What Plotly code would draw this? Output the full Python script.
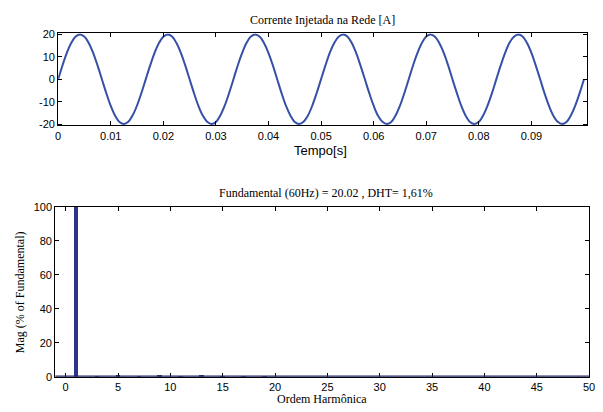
import numpy as np
import plotly.graph_objects as go

# --- Injected grid current, sampled every 1/1200 s (20 samples per 60 Hz cycle) ---
sample_period = 1.0 / 1200.0
current_a = [
    0.0, 6.3, 11.9, 16.3, 19.1, 20.0, 19.0, 16.1, 11.7, 6.1,
    -0.1, -6.3, -11.9, -16.3, -19.1, -20.0, -19.0, -16.1, -11.7, -6.1,
    0.1, 6.2, 11.8, 16.2, 19.0, 20.0, 19.1, 16.2, 11.8, 6.2,
    0.0, -6.2, -11.8, -16.2, -19.0, -20.0, -19.1, -16.2, -11.8, -6.2,
    0.0, 6.3, 11.8, 16.3, 19.1, 20.0, 19.0, 16.1, 11.7, 6.2,
    -0.1, -6.3, -11.9, -16.2, -19.1, -20.0, -19.0, -16.2, -11.7, -6.1,
    0.1, 6.2, 11.9, 16.2, 19.0, 20.0, 19.1, 16.2, 11.8, 6.1,
    0.0, -6.2, -11.8, -16.3, -19.0, -20.0, -19.1, -16.2, -11.8, -6.2,
    0.0, 6.3, 11.8, 16.2, 19.1, 20.0, 19.0, 16.1, 11.8, 6.2,
    -0.1, -6.2, -11.9, -16.3, -19.1, -20.0, -19.0, -16.1, -11.7, -6.2,
    0.1, 6.2, 11.8, 16.3, 19.0, 20.0, 19.1, 16.2, 11.8, 6.1,
    0.0, -6.3, -11.8, -16.2, -19.0, -20.0, -19.1, -16.2, -11.8, -6.2,
    0.0,
]
time_s = np.arange(len(current_a)) * sample_period

time_ticks = [0, 0.01, 0.02, 0.03, 0.04, 0.05, 0.06, 0.07, 0.08, 0.09]
time_tick_labels = ["0", "0.01", "0.02", "0.03", "0.04", "0.05", "0.06", "0.07", "0.08", "0.09"]
current_ticks = [-20, -10, 0, 10, 20]
current_tick_labels = ["-20", "-10", "0", "10", "20"]

# --- Harmonic spectrum (% of fundamental) ---
harmonic_order = list(range(0, 51))
harmonic_mag = [0.0] * 51
harmonic_mag[1] = 100.0
harmonic_mag[3] = 0.3
harmonic_mag[5] = 0.7
harmonic_mag[7] = 0.4
harmonic_mag[9] = 0.9
harmonic_mag[11] = 0.4
harmonic_mag[13] = 0.8
harmonic_mag[15] = 0.2
harmonic_mag[17] = 0.2
harmonic_mag[19] = 0.1

order_ticks = [0, 5, 10, 15, 20, 25, 30, 35, 40, 45, 50]
mag_ticks = [0, 20, 40, 60, 80, 100]

top_title = "Corrente Injetada na Rede [A]"
bottom_title = "Fundamental (60Hz) = 20.02 , DHT= 1,61%"
time_label = "Tempo[s]"
order_label = "Ordem Harmônica"
mag_label = "Mag (% of Fundamental)"

W, H = 603, 412
SANS = "Liberation Sans, Arial, sans-serif"
SERIF = "Liberation Serif, Times New Roman, serif"
LINE_BLUE = "#3550a6"
BAR_NAVY = "#2c3588"

order_range = [-1, 50]

fig = go.Figure()
fig.add_trace(go.Scatter(
    x=time_s, y=current_a, mode="lines", line_shape="spline",
    line=dict(color=LINE_BLUE, width=2), xaxis="x", yaxis="y",
    showlegend=False,
))
fig.add_trace(go.Bar(
    x=harmonic_order, y=harmonic_mag, width=0.42,
    marker=dict(color=BAR_NAVY, line=dict(width=0)),
    xaxis="x2", yaxis="y2", showlegend=False,
))


def px_x(p):
    return p / W


def px_y(p):
    return 1 - p / H


axis_common = dict(
    showline=True, linecolor="black", linewidth=1, mirror="ticks",
    ticks="inside", ticklen=4, tickcolor="black", tickwidth=1,
    showgrid=False, zeroline=False,
    tickfont=dict(family=SANS, size=11, color="black"),
)

fig.update_layout(
    width=W, height=H,
    margin=dict(l=0, r=0, t=0, b=0),
    paper_bgcolor="white", plot_bgcolor="white",
    bargap=0,
    xaxis=dict(
        domain=[px_x(56), px_x(593)], range=[0, 0.1006],
        tickvals=time_ticks, ticktext=time_tick_labels, anchor="y",
        ticklabelstandoff=0,
        **axis_common,
    ),
    yaxis=dict(
        domain=[px_y(123), px_y(28)], range=[-20.6, 20.6],
        tickvals=current_ticks, ticktext=current_tick_labels, anchor="x",
        **axis_common,
    ),
    xaxis2=dict(
        domain=[px_x(53), px_x(595)], range=order_range,
        tickvals=order_ticks, anchor="y2",
        **axis_common,
    ),
    yaxis2=dict(
        domain=[px_y(382), px_y(207)], range=[0, 100],
        tickvals=mag_ticks, anchor="x2",
        **axis_common,
    ),
    shapes=[
        # bar-chart baseline along zero
        dict(type="line", xref="x2", yref="y2",
             x0=order_range[0], x1=order_range[1], y0=0, y1=0,
             line=dict(color="#1f2566", width=2.5), layer="above"),
    ],
    annotations=[
        dict(text=top_title, x=px_x(324.5), y=px_y(14), xref="paper", yref="paper",
             showarrow=False, xanchor="center", yanchor="middle",
             font=dict(family=SERIF, size=12, color="black")),
        dict(text=time_label, x=px_x(322), y=px_y(149), xref="paper", yref="paper",
             showarrow=False, xanchor="center", yanchor="middle",
             font=dict(family=SANS, size=13, color="black")),
        dict(text=bottom_title, x=px_x(328), y=px_y(193), xref="paper", yref="paper",
             showarrow=False, xanchor="center", yanchor="middle",
             font=dict(family=SERIF, size=12, color="black")),
        dict(text=order_label, x=px_x(324), y=px_y(405), xref="paper", yref="paper",
             showarrow=False, xanchor="center", yanchor="middle",
             font=dict(family=SERIF, size=12, color="black")),
        dict(text=mag_label, x=px_x(18), y=px_y(295), xref="paper", yref="paper",
             showarrow=False, xanchor="center", yanchor="middle", textangle=-90,
             font=dict(family=SERIF, size=12, color="black")),
    ],
)

fig.write_html("out.html")
